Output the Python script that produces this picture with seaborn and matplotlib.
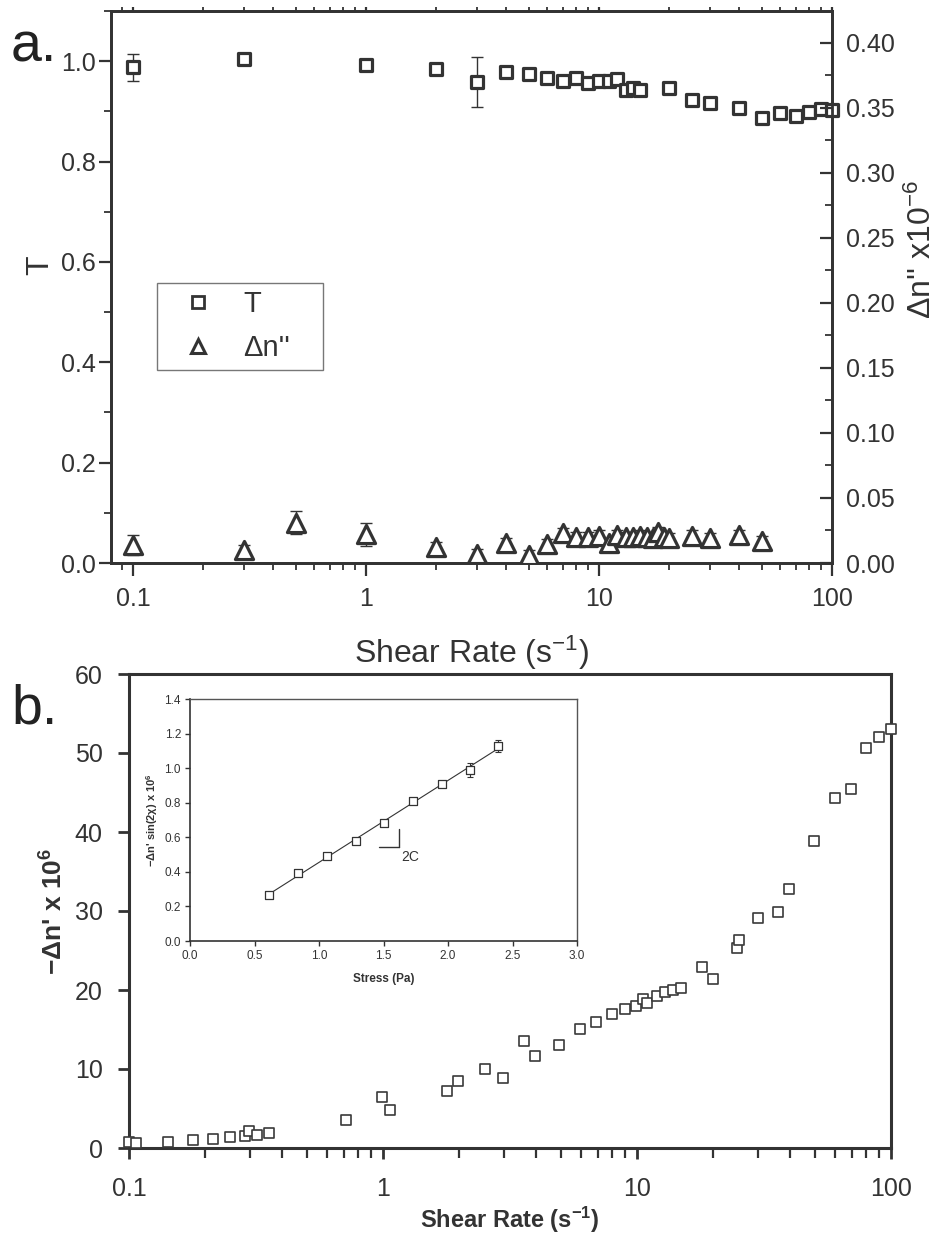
import numpy as np
import pandas as pd
import matplotlib
matplotlib.use("Agg")
import matplotlib.pyplot as plt
from matplotlib.ticker import MultipleLocator, FixedLocator, LogLocator, NullFormatter, FuncFormatter
from matplotlib.lines import Line2D
import seaborn as sns

# ---------------- data ----------------
# panel a: transmission T
t_rate = [0.1, 0.3, 1, 2, 3, 4, 5, 6, 7, 8, 9, 10, 11, 12, 13, 14, 15, 20, 25, 30, 40, 50, 60, 70, 80, 90, 100]
t_val = [0.988, 1.004, 0.993, 0.984, 0.958, 0.978, 0.974, 0.966, 0.960, 0.966, 0.956, 0.960, 0.961, 0.964,
         0.942, 0.946, 0.942, 0.946, 0.922, 0.917, 0.907, 0.886, 0.896, 0.890, 0.899, 0.904, 0.902]
t_err = [0.027, 0.004, 0.004, 0.004, 0.050, 0.004, 0.006, 0.006, 0.006, 0.006, 0.004, 0.004, 0.004, 0.005,
         0.005, 0.005, 0.004, 0.005, 0.004, 0.004, 0.004, 0.004, 0.004, 0.004, 0.004, 0.005, 0.004]

# panel a: dichroism dn'' (x1e-6)
d_rate = [0.1, 0.3, 0.5, 1, 2, 3, 4, 5, 6, 7, 8, 9, 10, 11, 12, 13, 14, 15, 16, 17, 18, 19, 20, 25, 30, 40, 50]
d_val = [0.0138, 0.010, 0.031, 0.022, 0.012, 0.007, 0.015, 0.006, 0.0146, 0.023, 0.020, 0.020, 0.021, 0.0154,
         0.0215, 0.020, 0.020, 0.021, 0.020, 0.019, 0.024, 0.020, 0.019, 0.021, 0.019, 0.0215, 0.017]
d_err = [0.008, 0.004, 0.009, 0.009, 0.004, 0.004, 0.004, 0.004, 0.004, 0.004, 0.004, 0.004, 0.004, 0.004,
         0.004, 0.004, 0.004, 0.004, 0.004, 0.004, 0.004, 0.004, 0.004, 0.004, 0.004, 0.004, 0.004]

# panel b: -dn' x 1e6
b_rate = [0.1, 0.107, 0.143, 0.179, 0.214, 0.25, 0.286, 0.297, 0.32, 0.356, 0.714, 0.99, 1.07, 1.79, 1.98,
          2.52, 2.98, 3.59, 3.98, 4.93, 5.97, 6.9, 7.95, 8.97, 9.9, 10.6, 10.9, 12.0, 12.9, 13.9, 14.9,
          18.0, 19.9, 24.8, 25.2, 29.9, 35.9, 39.8, 49.8, 60.3, 69.6, 79.4, 89.7, 100]
b_val = [0.76, 0.6, 0.7, 1.0, 1.15, 1.4, 1.5, 2.1, 1.6, 1.85, 3.5, 6.5, 4.8, 7.2, 8.5,
         10.0, 8.9, 13.5, 11.6, 13.1, 15.1, 16.0, 17.0, 17.6, 18.0, 18.9, 18.3, 19.2, 19.8, 20.0, 20.2,
         22.9, 21.4, 25.3, 26.3, 29.1, 29.9, 32.8, 38.9, 44.3, 45.4, 50.6, 52.0, 53.0]

# inset: stress vs -dn' sin(2chi) x 1e6
i_stress = [0.61, 0.84, 1.06, 1.29, 1.50, 1.73, 1.95, 2.17, 2.39]
i_val = [0.266, 0.393, 0.49, 0.577, 0.68, 0.81, 0.91, 0.99, 1.13]
i_err = [0.0, 0.0, 0.0, 0.0, 0.0, 0.0, 0.0, 0.04, 0.035]

# ---------------- style ----------------
sns.set_style("ticks")
plt.rcParams['font.family'] = ['Liberation Sans', 'DejaVu Sans']
plt.rcParams['mathtext.fontset'] = 'custom'
plt.rcParams['mathtext.rm'] = 'Liberation Sans'
plt.rcParams['mathtext.bf'] = 'Liberation Sans:bold'
plt.rcParams['mathtext.default'] = 'regular'
INK = '#333333'
plt.rcParams['text.color'] = INK
plt.rcParams['axes.labelcolor'] = INK
plt.rcParams['xtick.color'] = INK
plt.rcParams['ytick.color'] = INK

W, H = 940, 1248
fig = plt.figure(figsize=(W / 100, H / 100), dpi=100)

def box(l, t, r, b):
    return [l / W, 1 - b / H, (r - l) / W, (b - t) / H]

# ======== panel a ========
ax = fig.add_axes(box(111, 11, 832, 563))
ax2 = ax.twinx()

df_t = pd.DataFrame({'rate': t_rate, 'T': t_val, 'err': t_err})
df_d = pd.DataFrame({'rate': d_rate, 'dn': d_val, 'err': d_err})

ax.errorbar(df_t['rate'], df_t['T'], yerr=df_t['err'], fmt='none', ecolor=INK, elinewidth=1.0,
            capsize=4, capthick=1.0, zorder=2)
sns.scatterplot(data=df_t, x='rate', y='T', ax=ax, marker='s', s=70, facecolor='white',
                edgecolor=INK, linewidth=2.3, zorder=3, clip_on=False, legend=False)
ax2.errorbar(df_d['rate'], df_d['dn'], yerr=df_d['err'], fmt='none', ecolor=INK, elinewidth=1.0,
             capsize=4, capthick=1.0, zorder=2)
sns.scatterplot(data=df_d, x='rate', y='dn', ax=ax2, marker='^', s=170, facecolor='white',
                edgecolor=INK, linewidth=2.3, zorder=3, legend=False)

ax.set_xscale('log')
ax.set_xlim(0.0805, 100)
ax.set_ylim(0, 1.1)
ax2.set_ylim(0, 0.4246)
ax.xaxis.set_major_locator(FixedLocator([0.1, 1, 10, 100]))
ax.xaxis.set_major_formatter(FuncFormatter(lambda v, p: f"{v:g}"))
ax.xaxis.set_minor_locator(LogLocator(base=10, subs=np.arange(2, 10)))
ax.xaxis.set_minor_formatter(NullFormatter())
ax.yaxis.set_major_locator(MultipleLocator(0.2))
ax.yaxis.set_minor_locator(MultipleLocator(0.1))
ax.yaxis.set_major_formatter(FuncFormatter(lambda v, p: f"{v:.1f}"))
ax2.yaxis.set_major_locator(MultipleLocator(0.05))
ax2.yaxis.set_minor_locator(MultipleLocator(0.025))
ax2.yaxis.set_major_formatter(FuncFormatter(lambda v, p: f"{v:.2f}"))

for sp in ax.spines.values():
    sp.set_linewidth(2.0)
    sp.set_color(INK)
for sp in ax2.spines.values():
    sp.set_linewidth(2.0)
    sp.set_color(INK)

ax.tick_params(axis='x', which='major', direction='out', length=9, width=1.6, labelsize=18, pad=8,
               top=True, labeltop=False)
ax.tick_params(axis='x', which='minor', direction='out', length=5, width=1.3, top=True)
ax.tick_params(axis='y', which='major', direction='out', length=9, width=1.6, labelsize=18, pad=2)
ax.tick_params(axis='y', which='minor', direction='out', length=5, width=1.3)
ax2.tick_params(axis='y', which='major', direction='in', length=9, width=1.6, labelsize=18, pad=10)
ax2.tick_params(axis='y', which='minor', direction='in', length=5, width=1.3)
for t in ax.xaxis.get_major_ticks() + ax.xaxis.get_minor_ticks():
    t.tick2line.set_markersize(3)

ax.set_xlabel('Shear Rate (s$^{-1}$)', fontsize=23)
ax.xaxis.set_label_coords(0.5, -0.128)
ax.set_ylabel('T', fontsize=23)
ax.yaxis.set_label_coords(-0.078, 0.54)
ax2.set_ylabel("\u0394n'' x10$^{-6}$", fontsize=23, rotation=90)
ax2.yaxis.set_label_coords(1.103, 0.567)

handles = [Line2D([], [], marker='s', linestyle='none', markersize=8, markerfacecolor='white',
                  markeredgecolor=INK, markeredgewidth=2.0),
           Line2D([], [], marker='^', linestyle='none', markersize=10, markerfacecolor='white',
                  markeredgecolor=INK, markeredgewidth=2.2)]
leg = ax.legend(handles, ['T', "\u0394n''"], loc='upper left',
                bbox_to_anchor=(0.0638, 0.355, 0.230, 0.152), mode='expand',
                fontsize=21, frameon=True, fancybox=False, framealpha=1, edgecolor='#777777',
                handletextpad=0.4, borderpad=0.25, labelspacing=0.55, handlelength=2.3,
                borderaxespad=0)
leg.get_frame().set_linewidth(1.0)

fig.text(11 / W, 1 - 62 / H, 'a.', fontsize=40, ha='left', va='baseline', color='#222222')

# ======== panel b ========
bx = fig.add_axes(box(129, 674, 891, 1148))
df_b = pd.DataFrame({'rate': b_rate, 'val': b_val})
sns.scatterplot(data=df_b, x='rate', y='val', ax=bx, marker='s', s=50, facecolor='white',
                edgecolor='#3a3a3a', linewidth=1.2, clip_on=False, zorder=3, legend=False)
bx.set_xscale('log')
bx.set_xlim(0.1, 100)
bx.set_ylim(0, 60)
bx.xaxis.set_major_locator(FixedLocator([0.1, 1, 10, 100]))
bx.xaxis.set_major_formatter(FuncFormatter(lambda v, p: f"{v:g}"))
bx.xaxis.set_minor_locator(LogLocator(base=10, subs=np.arange(2, 10)))
bx.xaxis.set_minor_formatter(NullFormatter())
bx.yaxis.set_major_locator(MultipleLocator(10))
for sp in bx.spines.values():
    sp.set_linewidth(2.2)
    sp.set_color(INK)
bx.tick_params(axis='x', which='major', direction='out', length=8, width=2.0, labelsize=18, pad=13)
bx.tick_params(axis='x', which='minor', direction='out', length=7, width=1.6)
bx.tick_params(axis='y', which='major', direction='out', length=8, width=2.0, labelsize=18, pad=11)
bx.set_xlabel(r'Shear Rate (s$^{\mathbf{-1}}$)', fontsize=17, fontweight='bold')
bx.xaxis.set_label_coords(0.5, -0.12)
bx.set_ylabel("\u2212\u0394n' x 10$^{\\mathbf{6}}$", fontsize=19, fontweight='bold')
bx.yaxis.set_label_coords(-0.08, 0.5)

fig.text(11 / W, 1 - 723 / H, 'b.', fontsize=40, ha='left', va='baseline', color='#222222')

# ======== inset ========
ix = fig.add_axes(box(190, 699, 577, 941))
df_i = pd.DataFrame({'stress': i_stress, 'val': i_val, 'err': i_err})
sns.regplot(data=df_i, x='stress', y='val', ax=ix, scatter=False, ci=None,
            line_kws={'color': INK, 'linewidth': 0.8})
ix.errorbar(df_i['stress'], df_i['val'], yerr=df_i['err'], fmt='none', ecolor=INK, elinewidth=0.8,
            capsize=2.5, capthick=0.8)
sns.scatterplot(data=df_i, x='stress', y='val', ax=ix, marker='s', s=26, facecolor='white',
                edgecolor=INK, linewidth=0.9, zorder=3, legend=False)
ix.set_xlim(0, 3.0)
ix.set_ylim(0, 1.4)
ix.xaxis.set_major_locator(MultipleLocator(0.5))
ix.yaxis.set_major_locator(MultipleLocator(0.2))
ix.xaxis.set_major_formatter(FuncFormatter(lambda v, p: f"{v:.1f}"))
ix.yaxis.set_major_formatter(FuncFormatter(lambda v, p: f"{v:.1f}"))
for sp in ix.spines.values():
    sp.set_linewidth(1.0)
    sp.set_color('#555555')
ix.spines['left'].set_color(INK)
ix.spines['bottom'].set_color(INK)
ix.spines['left'].set_linewidth(1.2)
ix.spines['bottom'].set_linewidth(1.2)
ix.tick_params(axis='both', which='major', direction='out', length=3.5, width=1.0, labelsize=8.5, pad=3)
ix.set_xlabel('Stress (Pa)', fontsize=8.5, fontweight='bold', labelpad=8)
ix.set_ylabel("\u2212\u0394n' sin(2\u03c7) x 10$^{\\mathbf{6}}$", fontsize=8, fontweight='bold', labelpad=3)
# slope marker
ix.plot([1.465, 1.62], [0.544, 0.544], color=INK, linewidth=1.0)
ix.plot([1.62, 1.62], [0.544, 0.648], color=INK, linewidth=1.0)
ix.text(1.64, 0.486, '2C', fontsize=10, ha='left', va='center', color=INK)
ix.set_facecolor('white')

fig.savefig('out.png', dpi=100, facecolor='white')
